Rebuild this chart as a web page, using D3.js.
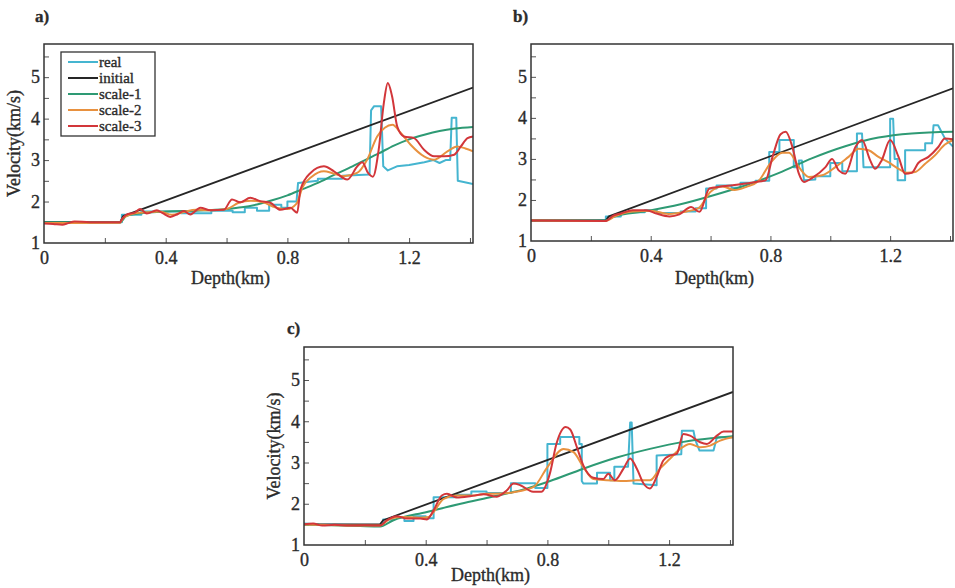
<!DOCTYPE html>
<html>
<head>
<meta charset="utf-8">
<script src="https://cdn.jsdelivr.net/npm/d3@7"></script>
<style>
  body { margin: 0; background: #fff; }
  svg text { font-family: "Liberation Serif", "DejaVu Serif", serif; fill: #2b2b2b; stroke: #2b2b2b; stroke-width: 0.35px; }
</style>
</head>
<body>
<div id="vizContainer"></div>
<script>
let w = 955;
let h = 588;

// series names and colours
let seriesNames = ["real", "initial", "scale-1", "scale-2", "scale-3"];
let seriesColors = ["#45b5d0", "#262626", "#2e9a74", "#e8913f", "#d2363a"];

let xTicks = [0.2, 0.4, 0.6, 0.8, 1.0, 1.2, 1.4];
let xTickLabels = [0, 0.4, 0.8, 1.2];
let yTicks = [1.5, 2, 2.5, 3, 3.5, 4, 4.5, 5, 5.5];
let yTickLabels = [1, 2, 3, 4, 5];

// panel a) [depth km, velocity km/s]
let aReal = [[0,1.5],[0.256,1.5],[0.256,1.68],[0.32,1.68],[0.32,1.76],[0.45,1.76],[0.45,1.72],[0.55,1.72],[0.55,1.78],[0.62,1.78],[0.62,1.74],[0.66,1.74],[0.66,1.85],[0.7,1.85],[0.7,1.78],[0.74,1.78],[0.74,1.92],[0.78,1.92],[0.78,1.85],[0.8,1.85],[0.8,2.0],[0.83,2.0],[0.835,2.45],[0.9,2.5],[0.9,2.55],[0.98,2.55],[0.98,2.62],[1.07,2.65],[1.075,4.2],[1.085,4.3],[1.108,4.3],[1.115,2.85],[1.13,2.75],[1.16,2.85],[1.2,2.88],[1.25,2.95],[1.28,3.0],[1.3,2.93],[1.32,3.0],[1.335,3.0],[1.34,4.02],[1.355,4.02],[1.36,2.5],[1.41,2.42]];
let aInitial = [[0,1.5],[0.25,1.5],[0.26,1.65],[1.41,4.75]];
let aScale1 = [[0,1.5],[0.25,1.5],[0.27,1.65],[0.3,1.7],[0.4,1.76],[0.5,1.78],[0.6,1.82],[0.65,1.86],[0.7,1.93],[0.75,2.03],[0.8,2.15],[0.85,2.3],[0.9,2.45],[0.95,2.63],[1.0,2.8],[1.05,2.98],[1.1,3.16],[1.15,3.35],[1.2,3.5],[1.25,3.61],[1.3,3.7],[1.35,3.76],[1.41,3.8]];
let aScale2 = [[0,1.48],[0.25,1.49],[0.26,1.6],[0.3,1.72],[0.34,1.74],[0.38,1.76],[0.42,1.68],[0.46,1.75],[0.5,1.8],[0.55,1.79],[0.6,1.82],[0.64,1.97],[0.68,2.02],[0.72,1.98],[0.76,1.86],[0.8,1.82],[0.83,1.95],[0.85,2.35],[0.88,2.6],[0.92,2.73],[0.95,2.68],[0.985,2.61],[1.029,2.69],[1.062,3.01],[1.095,3.57],[1.12,3.78],[1.145,3.85],[1.172,3.66],[1.205,3.37],[1.249,3.09],[1.282,3.01],[1.326,3.21],[1.358,3.33],[1.385,3.28],[1.41,3.21]];
let aScale3 = [[0,1.47],[0.03,1.46],[0.06,1.44],[0.08,1.48],[0.1,1.52],[0.15,1.5],[0.25,1.5],[0.256,1.57],[0.27,1.68],[0.3,1.74],[0.316,1.82],[0.338,1.71],[0.371,1.79],[0.39,1.72],[0.415,1.63],[0.44,1.7],[0.459,1.77],[0.481,1.69],[0.514,1.85],[0.547,1.79],[0.591,1.8],[0.618,2.05],[0.645,1.98],[0.678,2.09],[0.711,2.01],[0.744,1.97],[0.777,1.8],[0.81,1.85],[0.832,1.73],[0.843,2.29],[0.876,2.69],[0.92,2.85],[0.953,2.73],[0.997,2.53],[1.03,2.85],[1.046,2.95],[1.065,2.69],[1.081,2.6],[1.1,3.25],[1.117,4.38],[1.13,4.86],[1.144,4.54],[1.161,3.81],[1.183,3.57],[1.216,3.53],[1.249,3.25],[1.282,3.09],[1.315,3.09],[1.348,3.13],[1.37,3.33],[1.392,3.53],[1.41,3.57]];

// panel b)
let bReal = [[0,1.5],[0.25,1.5],[0.25,1.6],[0.3,1.6],[0.3,1.7],[0.38,1.7],[0.38,1.75],[0.42,1.75],[0.42,1.68],[0.5,1.68],[0.5,1.72],[0.55,1.72],[0.55,1.8],[0.585,1.8],[0.585,2.28],[0.62,2.28],[0.62,2.35],[0.67,2.35],[0.67,2.3],[0.7,2.3],[0.7,2.42],[0.75,2.42],[0.75,2.47],[0.796,2.47],[0.796,3.17],[0.83,3.17],[0.83,3.46],[0.878,3.46],[0.878,2.8],[0.895,2.8],[0.895,2.96],[0.905,2.96],[0.912,2.48],[0.95,2.5],[0.95,2.58],[1.0,2.58],[1.0,2.9],[1.04,2.9],[1.04,2.7],[1.089,2.7],[1.089,3.62],[1.106,3.62],[1.111,2.8],[1.2,2.8],[1.2,3.98],[1.21,3.98],[1.215,3.0],[1.225,3.0],[1.225,2.48],[1.25,2.48],[1.25,3.21],[1.317,3.21],[1.317,3.38],[1.34,3.38],[1.345,3.82],[1.36,3.82],[1.383,3.5],[1.41,3.3]];
let bInitial = [[0,1.5],[0.25,1.5],[0.26,1.6],[1.41,4.72]];
let bScale1 = [[0,1.5],[0.25,1.5],[0.275,1.59],[0.386,1.73],[0.496,1.89],[0.607,2.11],[0.718,2.36],[0.829,2.66],[0.94,3.02],[1.05,3.31],[1.161,3.52],[1.272,3.62],[1.41,3.66]];
let bScale2 = [[0,1.5],[0.25,1.49],[0.28,1.6],[0.34,1.72],[0.4,1.74],[0.46,1.66],[0.52,1.72],[0.56,1.8],[0.6,2.2],[0.64,2.33],[0.68,2.24],[0.72,2.32],[0.76,2.46],[0.8,2.9],[0.84,3.15],[0.862,3.15],[0.895,2.8],[0.928,2.56],[0.973,2.6],[1.017,2.8],[1.061,3.05],[1.095,3.25],[1.128,3.21],[1.161,3.05],[1.194,2.92],[1.228,2.76],[1.255,2.66],[1.283,2.68],[1.317,2.88],[1.35,3.09],[1.383,3.35],[1.41,3.46]];
let bScale3 = [[0,1.5],[0.25,1.49],[0.275,1.62],[0.3,1.67],[0.34,1.75],[0.386,1.75],[0.419,1.67],[0.463,1.6],[0.496,1.65],[0.535,1.83],[0.563,1.71],[0.596,2.28],[0.629,2.32],[0.674,2.36],[0.718,2.4],[0.751,2.44],[0.784,2.48],[0.807,3.05],[0.834,3.6],[0.851,3.66],[0.873,3.3],[0.895,2.64],[0.912,2.44],[0.94,2.54],[0.984,2.8],[1.006,3.0],[1.028,2.72],[1.05,2.64],[1.084,3.29],[1.106,3.46],[1.133,2.97],[1.15,2.76],[1.172,2.97],[1.2,3.46],[1.228,3.05],[1.25,2.64],[1.272,2.66],[1.294,2.9],[1.328,3.05],[1.361,3.29],[1.383,3.5],[1.41,3.48]];

// panel c)
let cReal = [[0,1.52],[0.05,1.5],[0.25,1.48],[0.26,1.48],[0.26,1.62],[0.29,1.62],[0.29,1.68],[0.33,1.68],[0.33,1.58],[0.36,1.58],[0.36,1.7],[0.4,1.7],[0.4,1.65],[0.426,1.65],[0.426,2.16],[0.5,2.16],[0.5,2.22],[0.55,2.22],[0.55,2.3],[0.6,2.3],[0.6,2.26],[0.68,2.26],[0.68,2.5],[0.76,2.5],[0.76,2.38],[0.8,2.38],[0.8,3.45],[0.842,3.45],[0.842,3.62],[0.905,3.62],[0.905,3.45],[0.913,3.45],[0.913,2.55],[0.918,2.49],[0.963,2.49],[0.963,2.75],[1.006,2.75],[1.006,2.57],[1.02,2.57],[1.02,2.9],[1.065,2.9],[1.072,3.97],[1.077,3.97],[1.083,2.49],[1.159,2.45],[1.159,3.17],[1.24,3.2],[1.242,3.77],[1.28,3.77],[1.286,3.55],[1.3,3.29],[1.346,3.29],[1.357,3.61],[1.41,3.61]];
let cInitial = [[0,1.5],[0.25,1.5],[0.26,1.6],[1.41,4.71]];
let cScale1 = [[0,1.5],[0.184,1.46],[0.25,1.45],[0.294,1.6],[0.404,1.8],[0.515,2.0],[0.625,2.18],[0.734,2.37],[0.809,2.55],[0.918,2.85],[1.028,3.12],[1.137,3.33],[1.247,3.5],[1.357,3.6],[1.41,3.64]];
let cScale2 = [[0,1.5],[0.25,1.47],[0.28,1.62],[0.32,1.68],[0.38,1.66],[0.41,1.68],[0.426,1.8],[0.459,2.12],[0.5,2.2],[0.55,2.2],[0.6,2.24],[0.65,2.25],[0.689,2.28],[0.755,2.41],[0.8,2.89],[0.853,3.33],[0.886,3.25],[0.918,2.89],[0.951,2.6],[0.995,2.57],[1.05,2.55],[1.094,2.57],[1.137,2.57],[1.17,2.85],[1.203,3.09],[1.236,3.33],[1.269,3.45],[1.302,3.37],[1.335,3.41],[1.368,3.53],[1.41,3.61]];
let cScale3 = [[0,1.5],[0.03,1.52],[0.06,1.47],[0.1,1.49],[0.15,1.47],[0.2,1.48],[0.25,1.47],[0.272,1.6],[0.305,1.7],[0.338,1.64],[0.382,1.64],[0.404,1.62],[0.426,1.84],[0.453,2.2],[0.47,2.24],[0.502,2.15],[0.546,2.18],[0.59,2.23],[0.634,2.17],[0.667,2.33],[0.689,2.49],[0.711,2.45],[0.753,2.29],[0.78,2.29],[0.808,2.73],[0.83,3.46],[0.86,3.86],[0.875,3.8],[0.897,3.37],[0.918,2.93],[0.951,2.63],[0.984,2.6],[1.0,2.73],[1.022,2.57],[1.05,2.85],[1.072,3.1],[1.094,2.85],[1.116,2.49],[1.137,2.37],[1.159,2.65],[1.181,3.05],[1.203,3.17],[1.225,3.21],[1.247,3.69],[1.269,3.65],[1.302,3.49],[1.324,3.45],[1.357,3.65],[1.379,3.75],[1.41,3.75]];

let panels = [
  { id: "a", label: "a)", left: 44, top: 44, width: 429, height: 199, yLabel: true, legend: true,
    labelPos: [35, 22], xLabelDy: 41, series: [aReal, aInitial, aScale1, aScale2, aScale3] },
  { id: "b", label: "b)", left: 531, top: 44, width: 422, height: 197, yLabel: false, legend: false,
    labelPos: [513, 22], xLabelDy: 43, series: [bReal, bInitial, bScale1, bScale2, bScale3] },
  { id: "c", label: "c)", left: 304, top: 347, width: 429, height: 198, yLabel: true, legend: false,
    labelPos: [287, 334], xLabelDy: 36, series: [cReal, cInitial, cScale1, cScale2, cScale3] },
];

let viz = d3.select("#vizContainer")
  .append("svg")
  .attr("width", w)
  .attr("height", h)
  .style("background-color", "white")
  ;

panels.forEach((p) => {
  let xScale = d3.scaleLinear().domain([0, 1.41]).range([0, p.width]);
  let yScale = d3.scaleLinear().domain([1, 5.8]).range([p.height, 0]);

  viz.append("text")
    .attr("x", p.labelPos[0])
    .attr("y", p.labelPos[1])
    .attr("font-size", 17)
    .attr("font-weight", "bold")
    .text(p.label);

  let g = viz.append("g")
    .attr("class", "panel-" + p.id)
    .attr("transform", "translate(" + p.left + "," + p.top + ")");

  g.append("clipPath").attr("id", "clip-" + p.id)
    .append("rect").attr("width", p.width).attr("height", p.height);

  // x axis, ticks pointing inward
  let xAxis = d3.axisBottom(xScale)
    .tickValues(xTicks)
    .tickSizeInner(-5)
    .tickSizeOuter(0)
    .tickFormat(d => "");
  let xAxisGroup = g.append("g").attr("transform", "translate(0," + p.height + ")").call(xAxis);
  xAxisGroup.select(".domain").remove();
  xAxisGroup.selectAll("line").attr("stroke", "#555");

  let xLab = d3.axisBottom(xScale)
    .tickValues(xTickLabels)
    .tickSize(0)
    .tickPadding(8)
    .tickFormat(d => d === 0 ? "0" : d3.format(".1f")(d));
  let xLabGroup = g.append("g").attr("transform", "translate(0," + p.height + ")").call(xLab);
  xLabGroup.select(".domain").remove();
  xLabGroup.selectAll("text").attr("font-size", 18).attr("font-family", null).attr("fill", null);

  let yAxis = d3.axisLeft(yScale)
    .tickValues(yTicks)
    .tickSizeInner(-5)
    .tickSizeOuter(0)
    .tickFormat(d => "");
  let yAxisGroup = g.append("g").call(yAxis);
  yAxisGroup.select(".domain").remove();
  yAxisGroup.selectAll("line").attr("stroke", "#555");

  let yLab = d3.axisLeft(yScale)
    .tickValues(yTickLabels)
    .tickSize(0)
    .tickPadding(4)
    .tickFormat(d3.format("d"));
  let yLabGroup = g.append("g").call(yLab);
  yLabGroup.select(".domain").remove();
  yLabGroup.selectAll("text").attr("font-size", 18).attr("font-family", null).attr("fill", null);

  // curves
  let lineGroup = g.append("g").attr("clip-path", "url(#clip-" + p.id + ")");
  p.series.forEach((s, i) => {
    let line = d3.line()
      .x(d => xScale(d[0]))
      .y(d => yScale(d[1]))
      .curve(i >= 2 ? d3.curveMonotoneX : d3.curveLinear);
    lineGroup.append("path")
      .datum(s)
      .attr("fill", "none")
      .attr("stroke", seriesColors[i])
      .attr("stroke-width", i == 1 ? 1.8 : 2)
      .attr("stroke-linejoin", "round")
      .attr("d", line);
  });

  g.append("rect")
    .attr("width", p.width)
    .attr("height", p.height)
    .attr("fill", "none")
    .attr("stroke", "#333")
    .attr("stroke-width", 1.5);

  g.append("text")
    .attr("x", p.width * 0.435)
    .attr("y", p.height + p.xLabelDy)
    .attr("text-anchor", "middle")
    .attr("font-size", 18)
    .text("Depth(km)");

  if (p.yLabel) {
    g.append("text")
      .attr("transform", "translate(" + (-24) + "," + (p.height * 0.5) + ") rotate(-90)")
      .attr("text-anchor", "middle")
      .attr("font-size", 18)
      .text("Velocity(km/s)");
  }

  if (p.legend) {
    let lg = g.append("g").attr("transform", "translate(17,8)");
    lg.append("rect")
      .attr("width", 94)
      .attr("height", 84)
      .attr("fill", "white")
      .attr("stroke", "#333")
      .attr("stroke-width", 1.3);
    seriesNames.forEach((name, i) => {
      let yy = 10 + i * 16;
      lg.append("line")
        .attr("x1", 7).attr("x2", 37)
        .attr("y1", yy).attr("y2", yy)
        .attr("stroke", seriesColors[i])
        .attr("stroke-width", 2);
      lg.append("text")
        .attr("x", 38)
        .attr("y", yy + 4.5)
        .attr("font-size", 15)
        .text(name);
    });
  }
});
</script>
</body>
</html>
